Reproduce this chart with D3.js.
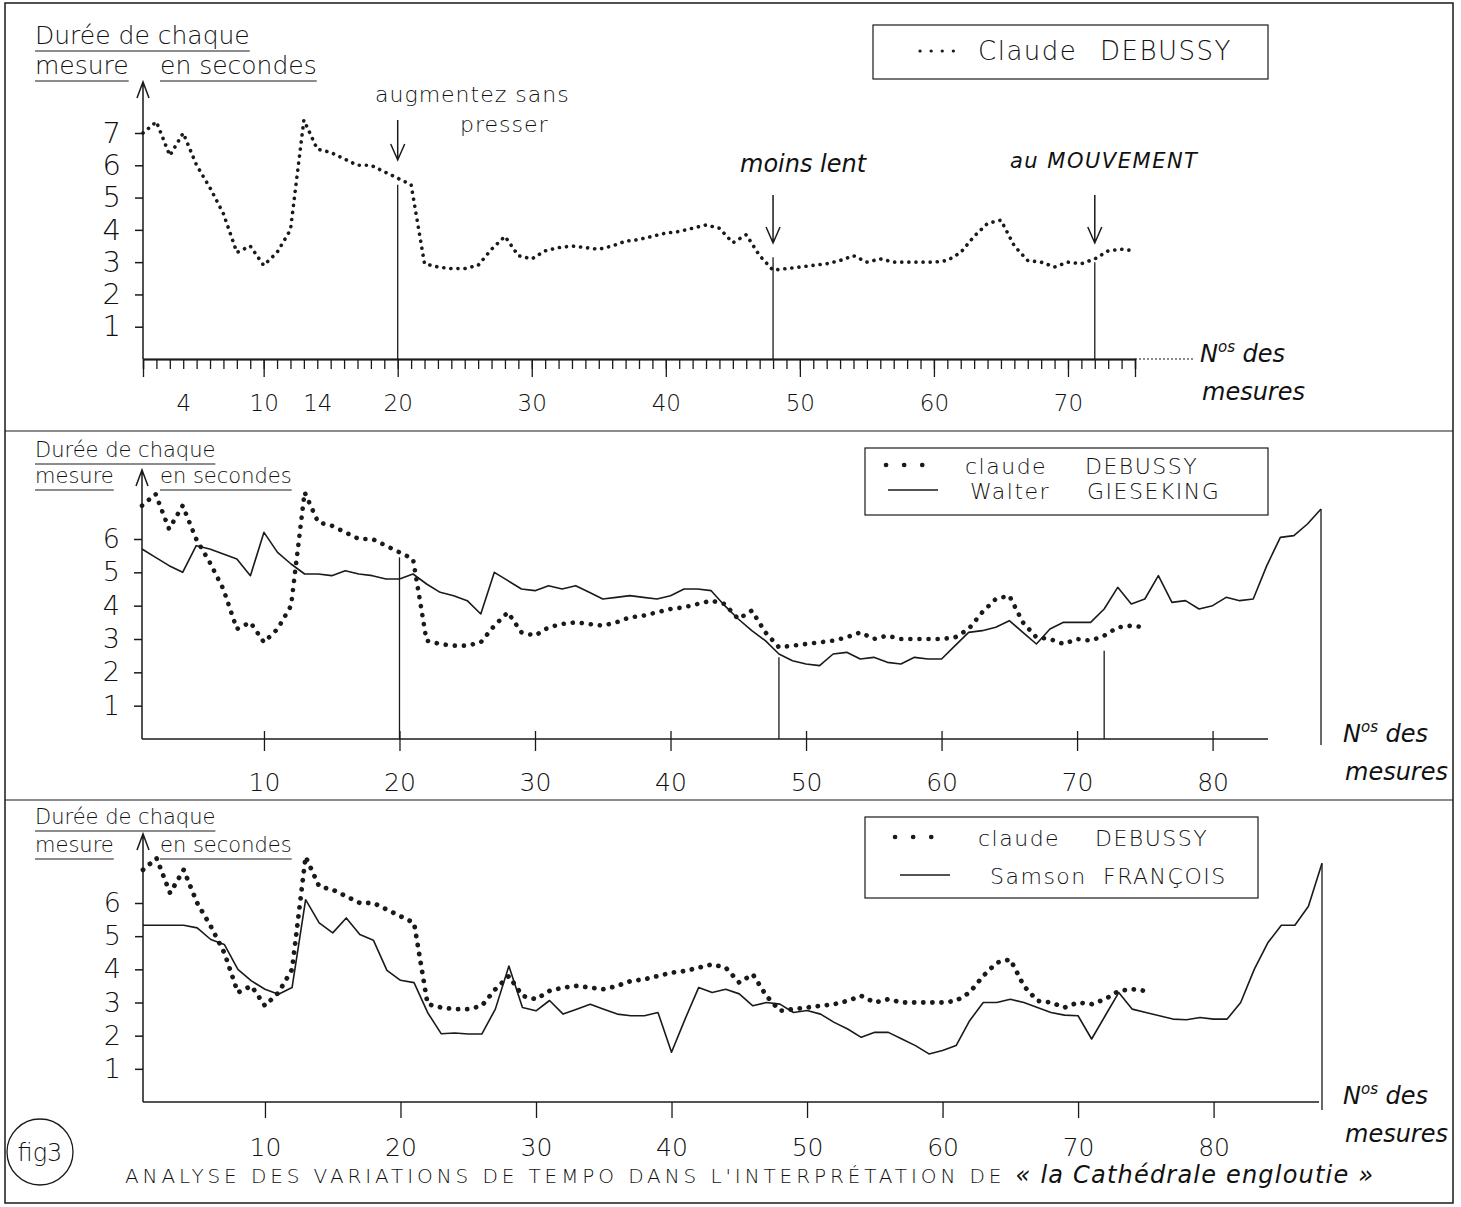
<!DOCTYPE html>
<html>
<head>
    <meta charset="utf-8">
    <title>Fig 3 - Cathédrale engloutie</title>
    <script src="https://cdn.jsdelivr.net/npm/d3@7"></script>
    <style>
        body { margin: 0; background: #fff; }
        text { font-family: "DejaVu Sans", sans-serif; font-weight: 300; fill: #111; }
        .ink { stroke: #1a1a1a; fill: none; }
    </style>
</head>
<body>
<svg width="1461" height="1207"></svg>

<script>
    // seconds per measure, measure 1..75 (Debussy's own roll)
    const debussy = [7.0, 7.35, 6.3, 7.0, 6.0, 5.3, 4.5, 3.3, 3.5, 2.9,
        3.3, 4.0, 7.4, 6.5, 6.4, 6.2, 6.0, 6.0, 5.8, 5.6,
        5.4, 2.95, 2.85, 2.8, 2.8, 2.9, 3.4, 3.8, 3.2, 3.1,
        3.35, 3.45, 3.5, 3.45, 3.4, 3.5, 3.65, 3.7, 3.8, 3.9,
        3.95, 4.05, 4.15, 4.05, 3.6, 3.85, 3.2, 2.75, 2.8, 2.85,
        2.9, 2.95, 3.05, 3.2, 3.0, 3.1, 3.0, 3.0, 3.0, 3.0,
        3.05, 3.3, 3.8, 4.2, 4.3, 3.5, 3.05, 3.0, 2.85, 3.0,
        2.95, 3.1, 3.35, 3.4, 3.35];

    // measure 1..88
    const gieseking = [5.7, 5.45, 5.2, 5.0, 5.8, 5.7, 5.55, 5.4, 4.9, 6.2,
        5.6, 5.25, 4.95, 4.95, 4.9, 5.05, 4.95, 4.9, 4.8, 4.8,
        4.95, 4.65, 4.4, 4.3, 4.15, 3.75, 5.0, 4.75, 4.5, 4.45,
        4.6, 4.5, 4.6, 4.4, 4.2, 4.25, 4.3, 4.25, 4.2, 4.3,
        4.5, 4.5, 4.45, 4.0, 3.6, 3.25, 2.95, 2.55, 2.35, 2.25,
        2.2, 2.55, 2.6, 2.4, 2.45, 2.3, 2.25, 2.45, 2.4, 2.4,
        2.8, 3.2, 3.25, 3.35, 3.55, 3.2, 2.85, 3.3, 3.5, 3.5,
        3.5, 3.9, 4.55, 4.05, 4.2, 4.9, 4.1, 4.15, 3.9, 4.0,
        4.25, 4.15, 4.2, 5.2, 6.05, 6.1, 6.45, 6.9];

    // measure 1..88
    const francois = [5.33, 5.33, 5.33, 5.33, 5.25, 4.9, 4.75, 4.0, 3.65, 3.4,
        3.25, 3.45, 6.1, 5.4, 5.1, 5.55, 5.05, 4.88, 3.97, 3.67,
        3.6, 2.7, 2.06, 2.08, 2.05, 2.05, 2.8, 4.1, 2.85, 2.75,
        3.06, 2.65, 2.8, 2.95, 2.8, 2.65, 2.6, 2.6, 2.7, 1.5,
        2.5, 3.45, 3.3, 3.4, 3.26, 2.9, 3.0, 2.95, 2.7, 2.76,
        2.65, 2.4, 2.2, 1.95, 2.1, 2.1, 1.9, 1.7, 1.45, 1.55,
        1.7, 2.45, 3.0, 3.0, 3.1, 3.0, 2.85, 2.7, 2.62, 2.6,
        1.9, 2.6, 3.3, 2.8, 2.7, 2.6, 2.5, 2.48, 2.55, 2.5,
        2.5, 3.0, 4.0, 4.8, 5.33, 5.33, 5.9, 7.2];

    const xLabels1 = [4, 10, 14, 20, 30, 40, 50, 60, 70];
    const xLabels23 = [10, 20, 30, 40, 50, 60, 70, 80];
    const yTicks1 = [1, 2, 3, 4, 5, 6, 7];
    const yTicks23 = [1, 2, 3, 4, 5, 6];

    // score indications (measure, value where the guide line stops)
    const marks1 = [
        { m: 20, top: 5.4 },
        { m: 48, top: 3.15 },
        { m: 72, top: 3.0 }
    ];
    const marks2 = [{ m: 20, top: 5.45 }, { m: 48, top: 2.45 }, { m: 72, top: 2.65 }];

    const svg = d3.select("svg");
    const ink = "#1a1a1a";

    // frame and panel separators
    svg.append("rect").attr("x", 5).attr("y", 3).attr("width", 1448).attr("height", 1200)
        .attr("class", "ink").attr("stroke-width", 1.5);
    svg.append("line").attr("x1", 5).attr("x2", 1453).attr("y1", 431).attr("y2", 431)
        .attr("class", "ink").attr("stroke-width", 1.2);
    svg.append("line").attr("x1", 5).attr("x2", 1453).attr("y1", 800).attr("y2", 800)
        .attr("class", "ink").attr("stroke-width", 1.2);

    const measures = (arr) => arr.map((v, i) => ({ m: i + 1, v: v }));

    function dotted(g, x, y, data, dot, gap) {
        g.append("path")
            .datum(measures(data))
            .attr("d", d3.line().x(d => x(d.m)).y(d => y(d.v)))
            .attr("class", "ink")
            .attr("stroke-width", dot)
            .attr("stroke-linecap", "round")
            .attr("stroke-dasharray", `0.1 ${gap}`);
    }

    function solid(g, x, y, data) {
        g.append("path")
            .datum(measures(data))
            .attr("d", d3.line().x(d => x(d.m)).y(d => y(d.v)))
            .attr("class", "ink")
            .attr("stroke-width", 1.6)
            .attr("stroke-linejoin", "round");
    }

    function underline(t, dy) {
        const b = t.node().getBBox();
        svg.append("line").attr("x1", b.x).attr("x2", b.x + b.width)
            .attr("y1", +t.attr("y") + dy).attr("y2", +t.attr("y") + dy)
            .attr("class", "ink").attr("stroke-width", 1);
    }

    function yTitle(top, size, gap) {
        const t1 = svg.append("text").attr("x", 35).attr("y", top).attr("font-size", size).text("Durée de chaque");
        const t2 = svg.append("text").attr("x", 35).attr("y", top + gap).attr("font-size", size).text("mesure");
        const t3 = svg.append("text").attr("x", 160).attr("y", top + gap).attr("font-size", size).text("en secondes");
        [t1, t2, t3].forEach(t => underline(t, 7));
    }

    function yAxis(x, y, ticks, tipY, size) {
        const g = svg.append("g").attr("transform", `translate(${x.range()[0]},0)`);
        g.call(d3.axisLeft(y).tickValues(ticks).tickSize(8).tickPadding(14).tickFormat(d3.format("d")));
        g.select(".domain").remove();
        g.selectAll("line").attr("stroke", ink).attr("stroke-width", 1.5);
        g.selectAll("text").attr("font-size", size).attr("font-family", "DejaVu Sans").attr("font-weight", 300).attr("fill", "#111");
        g.append("path")
            .attr("d", `M0,${y(0)} L0,${tipY} M-6,${tipY + 16} L0,${tipY} L6,${tipY + 16}`)
            .attr("class", "ink").attr("stroke-width", 1.5);
    }

    function mesuresLabel(xPos, yPos) {
        const t = svg.append("text").attr("x", xPos).attr("y", yPos).attr("font-size", 24).attr("font-style", "italic");
        t.append("tspan").text("N");
        t.append("tspan").attr("dy", -10).attr("font-size", 15).text("os");
        t.append("tspan").attr("dy", 10).text(" des");
        svg.append("text").attr("x", xPos + 2).attr("y", yPos + 38).attr("font-size", 24)
            .attr("font-style", "italic").text("mesures");
    }

    function legend(box, rows) {
        svg.append("rect").attr("x", box[0]).attr("y", box[1]).attr("width", box[2]).attr("height", box[3])
            .attr("class", "ink").attr("stroke-width", 1.2);
        rows.forEach(r => {
            if (r.kind === "dot") {
                svg.append("path").attr("d", `M${r.sx},${r.y} L${r.sx + 42},${r.y}`)
                    .attr("class", "ink").attr("stroke-width", r.dot).attr("stroke-linecap", "round")
                    .attr("stroke-dasharray", `0.1 ${r.gap}`);
            } else {
                svg.append("line").attr("x1", r.sx).attr("x2", r.sx + 50).attr("y1", r.y).attr("y2", r.y)
                    .attr("class", "ink").attr("stroke-width", 1.6);
            }
            const t = svg.append("text").attr("x", r.tx).attr("y", r.y + 9).attr("font-size", r.size)
                .attr("letter-spacing", 1.5);
            t.append("tspan").text(r.first);
            t.append("tspan").attr("x", r.tx2).text(r.last);
        });
    }

    // ---------- panel 1 : Debussy alone ----------
    const x1 = d3.scaleLinear().domain([1, 75]).range([143, 1135]);
    const y1 = d3.scaleLinear().domain([0, 7]).range([359, 133]);
    const p1 = svg.append("g");

    yTitle(44, 25, 30);
    yAxis(x1, y1, yTicks1, 82, 29);

    const ax1 = svg.append("g").attr("transform", `translate(0,${y1(0)})`);
    ax1.call(d3.axisBottom(x1).tickValues(d3.range(1, 76)).tickSize(10).tickFormat(""));
    ax1.append("g").call(d3.axisBottom(x1).tickValues(d3.range(10, 80, 10)).tickSize(18).tickFormat(""));
    ax1.append("g").call(d3.axisBottom(x1).tickValues(xLabels1).tickSize(0).tickPadding(36));
    ax1.selectAll("line, .domain").attr("stroke", ink).attr("stroke-width", 1.3);
    ax1.selectAll("text").attr("font-size", 23).attr("font-family", "DejaVu Sans").attr("font-weight", 300).attr("fill", "#111");
    ax1.append("line").attr("x1", x1(75)).attr("x2", 1195).attr("stroke", ink)
        .attr("stroke-width", 1.2).attr("stroke-dasharray", "2 2");

    dotted(p1, x1, y1, debussy, 3.6, 7);

    marks1.forEach((d, i) => {
        const xm = x1(d.m);
        p1.append("line").attr("x1", xm).attr("x2", xm).attr("y1", y1(0)).attr("y2", y1(d.top))
            .attr("class", "ink").attr("stroke-width", 1.3);
        const a0 = i === 0 ? 120 : 195, a1 = i === 0 ? 160 : 243;
        p1.append("path").attr("d", `M${xm},${a0} L${xm},${a1} M${xm - 7},${a1 - 16} L${xm},${a1} L${xm + 7},${a1 - 16}`)
            .attr("class", "ink").attr("stroke-width", 1.5);
    });
    svg.append("text").attr("x", 375).attr("y", 102).attr("font-size", 22).attr("letter-spacing", 1).text("augmentez sans");
    svg.append("text").attr("x", 460).attr("y", 132).attr("font-size", 22).attr("letter-spacing", 1).text("presser");
    svg.append("text").attr("x", 740).attr("y", 172).attr("font-size", 24).attr("font-style", "italic").text("moins lent");
    svg.append("text").attr("x", 1010).attr("y", 168).attr("font-size", 21).attr("font-style", "italic")
        .attr("letter-spacing", 1.5).text("au MOUVEMENT");

    mesuresLabel(1200, 362);

    legend([873, 25, 395, 54], [
        { kind: "dot", sx: 920, y: 51, dot: 3.2, gap: 11, tx: 978, tx2: 1100, size: 26, first: "Claude", last: "DEBUSSY" }
    ]);

    // ---------- panel 2 : Debussy vs Gieseking ----------
    const x2 = d3.scaleLinear().domain([1, 88]).range([142, 1321]);
    const y2 = d3.scaleLinear().domain([0, 6]).range([739, 539]);
    const p2 = svg.append("g");

    yTitle(457, 21, 26);
    yAxis(x2, y2, yTicks23, 470, 27);

    const ax2 = svg.append("g").attr("transform", `translate(0,${y2(0)})`);
    ax2.call(d3.axisBottom(x2).tickValues(xLabels23).tickSize(12).tickPadding(22));
    ax2.select(".domain").attr("d", `M${x2(1)},0H1268`);
    ax2.selectAll(".tick line").attr("y1", -8);
    ax2.selectAll("line, .domain").attr("stroke", ink).attr("stroke-width", 1.3);
    ax2.selectAll("text").attr("font-size", 25).attr("font-family", "DejaVu Sans").attr("font-weight", 300).attr("fill", "#111");

    marks2.forEach(d => {
        p2.append("line").attr("x1", x2(d.m)).attr("x2", x2(d.m)).attr("y1", y2(0)).attr("y2", y2(d.top))
            .attr("class", "ink").attr("stroke-width", 1.3);
    });
    dotted(p2, x2, y2, debussy, 4.6, 9);
    solid(p2, x2, y2, gieseking);
    p2.append("line").attr("x1", x2(88)).attr("x2", x2(88)).attr("y1", y2(gieseking[87])).attr("y2", y2(0) + 6)
        .attr("class", "ink").attr("stroke-width", 1.3);

    mesuresLabel(1343, 742);

    legend([865, 448, 403, 67], [
        { kind: "dot", sx: 886, y: 465, dot: 4.6, gap: 18, tx: 965, tx2: 1085, size: 22, first: "claude", last: "DEBUSSY" },
        { kind: "line", sx: 888, y: 490, tx: 970, tx2: 1087, size: 22, first: "Walter", last: "GIESEKING" }
    ]);

    // ---------- panel 3 : Debussy vs François ----------
    const x3 = d3.scaleLinear().domain([1, 88]).range([143, 1322]);
    const y3 = d3.scaleLinear().domain([0, 6]).range([1102, 903]);
    const p3 = svg.append("g");

    yTitle(824, 21, 28);
    yAxis(x3, y3, yTicks23, 834, 27);

    const ax3 = svg.append("g").attr("transform", `translate(0,${y3(0)})`);
    ax3.call(d3.axisBottom(x3).tickValues(xLabels23).tickSize(16).tickPadding(20));
    ax3.select(".domain").attr("d", `M${x3(1)},0H1319`);
    ax3.selectAll("line, .domain").attr("stroke", ink).attr("stroke-width", 1.3);
    ax3.selectAll("text").attr("font-size", 25).attr("font-family", "DejaVu Sans").attr("font-weight", 300).attr("fill", "#111");

    dotted(p3, x3, y3, debussy, 4.8, 9);
    solid(p3, x3, y3, francois);
    p3.append("line").attr("x1", x3(88)).attr("x2", x3(88)).attr("y1", y3(francois[87])).attr("y2", y3(0) + 8)
        .attr("class", "ink").attr("stroke-width", 1.3);

    mesuresLabel(1343, 1104);

    legend([865, 817, 393, 81], [
        { kind: "dot", sx: 895, y: 837, dot: 4.6, gap: 18, tx: 978, tx2: 1095, size: 22, first: "claude", last: "DEBUSSY" },
        { kind: "line", sx: 900, y: 875, tx: 990, tx2: 1103, size: 22, first: "Samson", last: "FRANÇOIS" }
    ]);

    // figure label and caption
    svg.append("circle").attr("cx", 40).attr("cy", 1152).attr("r", 33).attr("class", "ink").attr("stroke-width", 1.3);
    svg.append("text").attr("x", 40).attr("y", 1161).attr("text-anchor", "middle").attr("font-size", 24).text("fig3");
    const cap = svg.append("text").attr("x", 125).attr("y", 1183).attr("font-size", 20).attr("letter-spacing", 3.9);
    cap.append("tspan").text("ANALYSE DES VARIATIONS DE TEMPO  DANS L'INTERPRÉTATION  DE ");
    cap.append("tspan").attr("font-style", "italic").attr("letter-spacing", 1.2).attr("font-size", 24)
        .text("« la Cathédrale engloutie »");
</script>
</body>
</html>
